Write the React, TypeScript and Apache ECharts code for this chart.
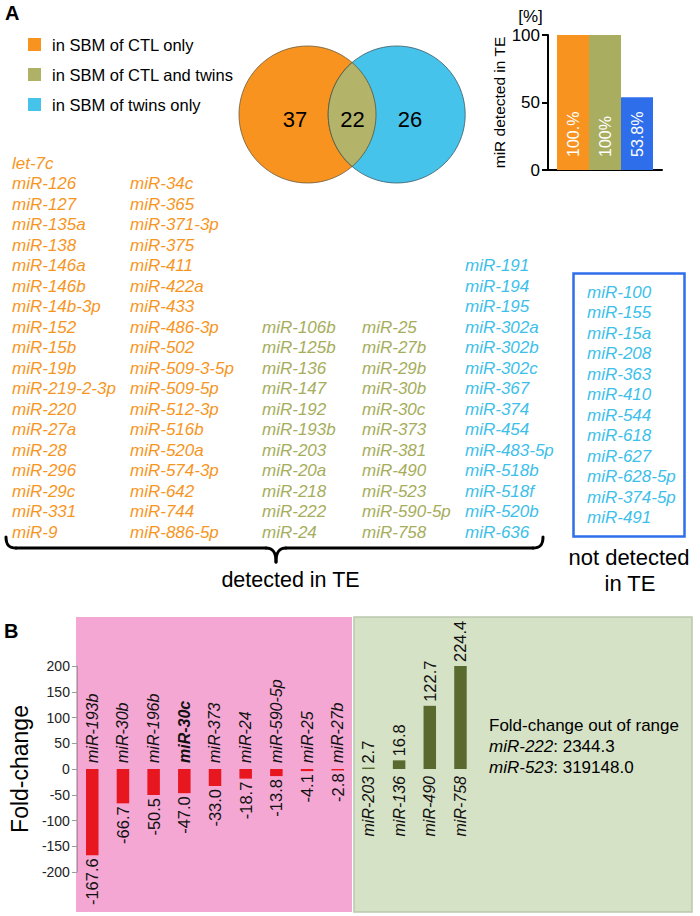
import React, { useEffect, useRef } from 'react';
import * as echarts from 'echarts';

// ---------- Panel A data ----------
const legendLabels = ['in SBM of CTL only', 'in SBM of CTL and twins', 'in SBM of twins only'];
const vennCounts = [37, 22, 26];
const detectedPct = [100, 100, 53.8];
const detectedPctLabels = ['100.%', '100%', '53.8%'];

const ctlOnlyColA = ['let-7c', 'miR-126', 'miR-127', 'miR-135a', 'miR-138', 'miR-146a', 'miR-146b', 'miR-14b-3p', 'miR-152', 'miR-15b', 'miR-19b', 'miR-219-2-3p', 'miR-220', 'miR-27a', 'miR-28', 'miR-296', 'miR-29c', 'miR-331', 'miR-9'];
const ctlOnlyColB = ['miR-34c', 'miR-365', 'miR-371-3p', 'miR-375', 'miR-411', 'miR-422a', 'miR-433', 'miR-486-3p', 'miR-502', 'miR-509-3-5p', 'miR-509-5p', 'miR-512-3p', 'miR-516b', 'miR-520a', 'miR-574-3p', 'miR-642', 'miR-744', 'miR-886-5p'];
const bothColA = ['miR-106b', 'miR-125b', 'miR-136', 'miR-147', 'miR-192', 'miR-193b', 'miR-203', 'miR-20a', 'miR-218', 'miR-222', 'miR-24'];
const bothColB = ['miR-25', 'miR-27b', 'miR-29b', 'miR-30b', 'miR-30c', 'miR-373', 'miR-381', 'miR-490', 'miR-523', 'miR-590-5p', 'miR-758'];
const twinsDetected = ['miR-191', 'miR-194', 'miR-195', 'miR-302a', 'miR-302b', 'miR-302c', 'miR-367', 'miR-374', 'miR-454', 'miR-483-5p', 'miR-518b', 'miR-518f', 'miR-520b', 'miR-636'];
const twinsNotDetected = ['miR-100', 'miR-155', 'miR-15a', 'miR-208', 'miR-363', 'miR-410', 'miR-544', 'miR-618', 'miR-627', 'miR-628-5p', 'miR-374-5p', 'miR-491'];

// ---------- Panel B data ----------
const fcNames = ['miR-193b', 'miR-30b', 'miR-196b', 'miR-30c', 'miR-373', 'miR-24', 'miR-590-5p', 'miR-25', 'miR-27b', 'miR-203', 'miR-136', 'miR-490', 'miR-758'];
const fcValues = [-167.6, -66.7, -50.5, -47.0, -33.0, -18.7, -13.8, -4.1, -2.8, 2.7, 16.8, 122.7, 224.4];
const boldNames = ['miR-30c'];
const outOfRangeNames = ['miR-222', 'miR-523'];
const outOfRangeValues = ['2344.3', '319148.0'];
const fcAxisMin = -200;
const fcAxisMax = 200;
const fcAxisInterval = 50;

const FONT = "'Liberation Sans', Arial, Helvetica, sans-serif";
const ORANGE = '#F7931E';
const OLIVE = '#AFB166';
const CYAN = '#46C3EA';
const BLUE = '#2F6EEB';
const TXT_ORANGE = '#F7961F';
const TXT_OLIVE = '#A6AD5B';
const TXT_CYAN = '#3DBFEA';
const RED = '#E8161F';
const DKGREEN = '#5A6A2E';

function txt(x: number, y: number, s: string, o: any = {}) {
  const align = o.align || 'left';
  const va = o.va || 'middle';
  return {
    type: 'text',
    x,
    y,
    z: 20,
    silent: true,
    style: {
      text: s,
      fill: o.fill || '#000',
      fontSize: o.size || 17,
      fontFamily: FONT,
      fontStyle: o.italic ? 'italic' : 'normal',
      fontWeight: o.bold ? 'bold' : 'normal',
      align,
      verticalAlign: va,
      textAlign: align,
      textVerticalAlign: va,
      rich: o.rich,
    },
  };
}

function buildGraphic() {
  const g: any[] = [];
  // panel letters
  g.push(txt(5, 13, 'A', { size: 20, bold: true }));
  g.push(txt(4, 631, 'B', { size: 20, bold: true }));

  // legend
  const legColors = [ORANGE, OLIVE, CYAN];
  legendLabels.forEach((l, i) => {
    g.push({ type: 'rect', z: 20, shape: { x: 28, y: 38 + 30 * i, width: 13, height: 13 }, style: { fill: legColors[i] } });
    g.push(txt(52, 45 + 30 * i, l, { size: 16.5 }));
  });

  // Venn
  const r = 68.5;
  const c1 = [307.5, 114.5];
  const c2 = [396.7, 114.5];
  const d = c2[0] - c1[0];
  const th = Math.acos(d / 2 / r);
  const pts: number[][] = [];
  const N = 40;
  for (let k = 0; k <= N; k++) {
    const t = -th + (2 * th * k) / N;
    pts.push([c1[0] + r * Math.cos(t), c1[1] + r * Math.sin(t)]);
  }
  for (let k = 0; k <= N; k++) {
    const t = Math.PI - th + (2 * th * k) / N;
    pts.push([c2[0] + r * Math.cos(t), c2[1] + r * Math.sin(t)]);
  }
  g.push({ type: 'circle', z: 10, shape: { cx: c1[0], cy: c1[1], r }, style: { fill: ORANGE, stroke: '#6b5a3a', lineWidth: 0.8 } });
  g.push({ type: 'circle', z: 10, shape: { cx: c2[0], cy: c2[1], r }, style: { fill: CYAN, stroke: '#3b5a66', lineWidth: 0.8 } });
  g.push({ type: 'polygon', z: 11, shape: { points: pts }, style: { fill: '#B3B36A', stroke: '#55553a', lineWidth: 0.8 } });
  const numX = [295, 352.5, 410];
  vennCounts.forEach((n, i) => g.push(txt(numX[i], 119, String(n), { size: 22, align: 'center' })));

  // [%]
  g.push(txt(530.5, 16, '[%]', { size: 17, align: 'center' }));

  // miR lists
  const rowY = (r0: number) => 163 + 20.5 * r0;
  const cols = [
    { items: ctlOnlyColA, x: 12, row: 0, fill: TXT_ORANGE },
    { items: ctlOnlyColB, x: 130, row: 1, fill: TXT_ORANGE },
    { items: bothColA, x: 262, row: 8, fill: TXT_OLIVE },
    { items: bothColB, x: 362, row: 8, fill: TXT_OLIVE },
    { items: twinsDetected, x: 465, row: 5, fill: TXT_CYAN },
  ];
  cols.forEach((c) => c.items.forEach((s, k) => g.push(txt(c.x, rowY(c.row + k), s, { italic: true, fill: c.fill }))));
  twinsNotDetected.forEach((s, k) => g.push(txt(587, 292 + 20.5 * k, s, { italic: true, fill: TXT_CYAN })));
  g.push({ type: 'rect', z: 15, shape: { x: 573.5, y: 273.5, width: 111, height: 263 }, style: { fill: 'none', stroke: BLUE, lineWidth: 2.5 } });

  // bracket
  const bs = { stroke: '#000', lineWidth: 3, fill: 'none', lineCap: 'round' };
  g.push({ type: 'bezierCurve', z: 15, shape: { x1: 6, y1: 537, cpx1: 6, cpy1: 545, cpx2: 9, cpy2: 548, x2: 16, y2: 548 }, style: bs });
  g.push({ type: 'line', z: 15, shape: { x1: 16, y1: 548, x2: 266, y2: 548 }, style: bs });
  g.push({ type: 'bezierCurve', z: 15, shape: { x1: 266, y1: 548, cpx1: 272, cpy1: 548, cpx2: 276, cpy2: 551, x2: 276, y2: 562 }, style: bs });
  g.push({ type: 'bezierCurve', z: 15, shape: { x1: 286, y1: 548, cpx1: 280, cpy1: 548, cpx2: 276, cpy2: 551, x2: 276, y2: 562 }, style: bs });
  g.push({ type: 'line', z: 15, shape: { x1: 286, y1: 548, x2: 533, y2: 548 }, style: bs });
  g.push({ type: 'bezierCurve', z: 15, shape: { x1: 533, y1: 548, cpx1: 540, cpy1: 548, cpx2: 543, cpy2: 545, x2: 543, y2: 537 }, style: bs });

  g.push(txt(290.5, 580, 'detected in TE', { size: 21.5, align: 'center' }));
  g.push(txt(629, 557, 'not detected', { size: 22, align: 'center' }));
  g.push(txt(630, 583, 'in TE', { size: 22, align: 'center' }));

  // Panel B backgrounds
  g.push({ type: 'rect', z: 0, shape: { x: 76, y: 617, width: 276, height: 295 }, style: { fill: '#F4A7D3' } });
  g.push({ type: 'rect', z: 0, shape: { x: 354, y: 617, width: 338, height: 295 }, style: { fill: '#D6E2C5', stroke: '#BCC7AE', lineWidth: 1.5 } });

  // out of range note
  g.push(txt(489, 725, 'Fold-change out of range', { size: 17 }));
  outOfRangeNames.forEach((n, i) => {
    g.push(
      txt(489, 746 + 21 * i, `{i|${n}}: ${outOfRangeValues[i]}`, {
        size: 17,
        rich: { i: { fontStyle: 'italic', fontSize: 17, fontFamily: FONT, fill: '#000' } },
      })
    );
  });
  return g;
}

export default function App() {
  const ref = useRef<HTMLDivElement>(null);
  useEffect(() => {
    document.body.style.margin = '0';
    if (!ref.current) return;
    const chart = echarts.init(ref.current, undefined, { renderer: 'svg' });
    const barColors = [ORANGE, '#A9AD5F', BLUE];
    const pads = Array.from({ length: 20 - fcNames.length }, (_, k) => `pad${k}`);

    const renderLabels = (params: any, api: any) => {
      const idx = api.value(0);
      const v = api.value(1);
      const zero = api.coord([idx, 0]);
      const end = api.coord([idx, Math.max(Math.min(v, fcAxisMax), fcAxisMin)]);
      const cx = zero[0];
      const name = fcNames[idx];
      const bold = boldNames.indexOf(name) >= 0;
      const neg = v < 0;
      const nameAlign = neg ? 'left' : 'right';
      const valAlign = neg ? 'right' : 'left';
      return {
        type: 'group',
        children: [
          {
            type: 'text',
            x: cx,
            y: neg ? zero[1] - 6 : zero[1] + 7,
            rotation: Math.PI / 2,
            style: {
              text: name,
              fill: '#111',
              fontSize: 16,
              fontFamily: FONT,
              fontStyle: 'italic',
              fontWeight: bold ? 'bold' : 'normal',
              align: nameAlign,
              textAlign: nameAlign,
              verticalAlign: 'middle',
              textVerticalAlign: 'middle',
            },
          },
          {
            type: 'text',
            x: cx,
            y: neg ? end[1] + 3 : end[1] - 4,
            rotation: Math.PI / 2,
            style: {
              text: v.toFixed(1),
              fill: '#111',
              fontSize: 16.5,
              fontFamily: FONT,
              align: valAlign,
              textAlign: valAlign,
              verticalAlign: 'middle',
              textVerticalAlign: 'middle',
            },
          },
        ],
      };
    };

    const option: any = {
      animation: false,
      grid: [
        { left: 548, top: 35, width: 114, height: 135 },
        { left: 74.6, top: 666, width: 616, height: 206 },
      ],
      xAxis: [
        {
          gridIndex: 0,
          type: 'category',
          data: ['TE'],
          axisLine: { show: true, lineStyle: { color: '#000', width: 2 } },
          axisTick: { show: false },
          axisLabel: { show: false },
        },
        {
          gridIndex: 1,
          type: 'category',
          data: [...fcNames, ...pads],
          show: false,
        },
      ],
      yAxis: [
        {
          gridIndex: 0,
          type: 'value',
          min: 0,
          max: 100,
          interval: 50,
          axisLine: { show: true, lineStyle: { color: '#000', width: 2 } },
          axisTick: { show: true, length: 6, lineStyle: { color: '#000', width: 2 } },
          axisLabel: { fontSize: 17, color: '#000', fontFamily: FONT, margin: 8 },
          splitLine: { show: false },
          name: 'miR detected in TE',
          nameLocation: 'middle',
          nameGap: 37,
          nameTextStyle: { fontSize: 15.5, color: '#000', fontFamily: FONT },
        },
        {
          gridIndex: 1,
          type: 'value',
          min: fcAxisMin,
          max: fcAxisMax,
          interval: fcAxisInterval,
          axisLine: { show: true, lineStyle: { color: '#9a9a9a', width: 1 } },
          axisTick: { show: true, length: 5, lineStyle: { color: '#9a9a9a', width: 1 } },
          axisLabel: { fontSize: 14, color: '#222', fontFamily: FONT, margin: 7 },
          splitLine: { show: false },
          name: 'Fold-change',
          nameLocation: 'middle',
          nameGap: 44,
          nameTextStyle: { fontSize: 23, color: '#000', fontFamily: FONT },
        },
      ],
      series: [
        ...legendLabels.map((n, i) => ({
          type: 'bar',
          name: n,
          xAxisIndex: 0,
          yAxisIndex: 0,
          data: [detectedPct[i]],
          barWidth: 32,
          barGap: '0%',
          itemStyle: { color: barColors[i] },
          label: {
            show: true,
            position: 'insideBottom',
            rotate: 90,
            distance: 13,
            align: 'left',
            verticalAlign: 'middle',
            formatter: detectedPctLabels[i],
            color: '#fff',
            fontSize: 16,
            fontFamily: FONT,
          },
        })),
        {
          type: 'bar',
          xAxisIndex: 1,
          yAxisIndex: 1,
          barWidth: 12.5,
          z: 3,
          data: fcValues.map((v) => ({ value: v, itemStyle: { color: v < 0 ? RED : DKGREEN } })),
        },
        {
          type: 'custom',
          xAxisIndex: 1,
          yAxisIndex: 1,
          z: 5,
          silent: true,
          clip: false,
          data: fcValues.map((v, i) => [i, v]),
          renderItem: renderLabels,
        },
      ],
      graphic: { elements: buildGraphic() },
    };
    chart.setOption(option);
    return () => chart.dispose();
  }, []);
  return <div ref={ref} style={{ width: 700, height: 916, background: '#fff' }} />;
}
